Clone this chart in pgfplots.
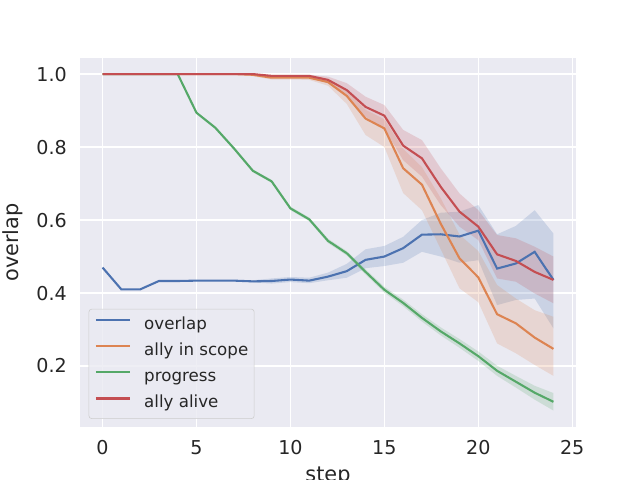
\documentclass[border=0pt]{standalone}
\usepackage{fontspec}
\setmainfont{DejaVu Sans}
\usepackage{pgfplots}
\pgfplotsset{compat=1.18}
\usepackage{pgfplotstable}
\usepgfplotslibrary{fillbetween}

\definecolor{sbblue}{HTML}{4C72B0}
\definecolor{sborange}{HTML}{DD8452}
\definecolor{sbgreen}{HTML}{55A868}
\definecolor{sbred}{HTML}{C44E52}
\definecolor{sbbg}{HTML}{EAEAF2}
\definecolor{sbtext}{HTML}{262626}

% x = step, m = mean, lo/hi = confidence band
\pgfplotstableread{
x m lo hi
0 0.470 0.470 0.470
1 0.410 0.410 0.410
2 0.410 0.410 0.410
3 0.433 0.433 0.433
4 0.433 0.433 0.433
5 0.434 0.433 0.435
6 0.434 0.433 0.435
7 0.434 0.433 0.435
8 0.432 0.429 0.435
9 0.433 0.426 0.440
10 0.437 0.430 0.444
11 0.434 0.427 0.442
12 0.445 0.435 0.456
13 0.460 0.442 0.480
14 0.491 0.468 0.520
15 0.500 0.474 0.529
16 0.523 0.483 0.554
17 0.560 0.513 0.600
18 0.561 0.500 0.620
19 0.555 0.483 0.623
20 0.571 0.490 0.641
21 0.467 0.367 0.561
22 0.481 0.381 0.584
23 0.513 0.385 0.627
24 0.436 0.303 0.563
}\tabov

\pgfplotstableread{
x m lo hi
0 1.000 1.000 1.000
1 1.000 1.000 1.000
2 1.000 1.000 1.000
3 1.000 1.000 1.000
4 1.000 1.000 1.000
5 1.000 1.000 1.000
6 1.000 1.000 1.000
7 1.000 1.000 1.000
8 0.998 0.994 1.000
9 0.990 0.985 0.995
10 0.990 0.985 0.995
11 0.990 0.984 0.996
12 0.978 0.968 0.987
13 0.940 0.918 0.955
14 0.878 0.833 0.902
15 0.851 0.800 0.876
16 0.742 0.674 0.795
17 0.697 0.627 0.745
18 0.590 0.520 0.660
19 0.495 0.413 0.560
20 0.443 0.375 0.515
21 0.342 0.262 0.422
22 0.317 0.235 0.385
23 0.278 0.203 0.353
24 0.247 0.173 0.335
}\tabsc

\pgfplotstableread{
x m lo hi
0 1.000 1.000 1.000
1 1.000 1.000 1.000
2 1.000 1.000 1.000
3 1.000 1.000 1.000
4 1.000 1.000 1.000
5 0.894 0.891 0.897
6 0.853 0.849 0.857
7 0.796 0.792 0.800
8 0.735 0.731 0.739
9 0.706 0.702 0.710
10 0.632 0.627 0.637
11 0.602 0.597 0.607
12 0.543 0.537 0.549
13 0.509 0.503 0.515
14 0.458 0.451 0.465
15 0.409 0.401 0.417
16 0.373 0.364 0.382
17 0.332 0.322 0.342
18 0.295 0.284 0.306
19 0.262 0.250 0.274
20 0.227 0.214 0.240
21 0.187 0.173 0.201
22 0.157 0.141 0.173
23 0.127 0.108 0.146
24 0.102 0.078 0.126
}\tabpr

\pgfplotstableread{
x m lo hi
0 1.000 1.000 1.000
1 1.000 1.000 1.000
2 1.000 1.000 1.000
3 1.000 1.000 1.000
4 1.000 1.000 1.000
5 1.000 1.000 1.000
6 1.000 1.000 1.000
7 1.000 1.000 1.000
8 1.000 1.000 1.000
9 0.995 0.992 0.998
10 0.995 0.992 0.998
11 0.995 0.991 0.998
12 0.984 0.975 0.993
13 0.956 0.938 0.975
14 0.910 0.883 0.938
15 0.886 0.851 0.915
16 0.804 0.764 0.847
17 0.769 0.719 0.819
18 0.691 0.641 0.742
19 0.623 0.582 0.673
20 0.582 0.545 0.627
21 0.506 0.440 0.559
22 0.488 0.431 0.550
23 0.458 0.399 0.527
24 0.436 0.372 0.500
}\tabal

\begin{document}
\begin{tikzpicture}
\begin{axis}[
    scale only axis,
    width=357.12pt, height=265.68pt,
    at={(0,0)}, anchor=south west,
    xmin=-1.2, xmax=25.2, ymin=0.033, ymax=1.044,
    axis background/.style={fill=sbbg},
    axis line style={draw=none},
    grid=major,
    major grid style={white, line width=1pt},
    major tick length=0pt,
    tick style={draw=none},
    xtick={0,5,10,15,20,25},
    ytick={0.2,0.4,0.6,0.8,1.0},
    yticklabel style={/pgf/number format/fixed, /pgf/number format/fixed zerofill, /pgf/number format/precision=1, xshift=-6pt},
    xticklabel style={yshift=-6pt},
    /pgf/number format/assume math mode=true,
    tick label style={font=\fontsize{13.75}{16}\selectfont, text=sbtext},
    label style={font=\fontsize{15}{18}\selectfont, text=sbtext},
    xlabel=step, ylabel=overlap,
    xlabel style={at={(axis description cs:0.5,-0.095)}, anchor=north},
    ylabel style={at={(axis description cs:-0.106,0.5)}, anchor=south},
    legend cell align=left,
    legend image code/.code={\draw[#1] (0pt,3.3pt) -- (24.5pt,3.3pt);},
    legend style={at={(axis description cs:0.0175,0.022)}, anchor=south west,
        draw=black!20, fill=sbbg, fill opacity=0.8, text opacity=1, text=sbtext,
        rounded corners=2pt, font=\fontsize{12}{14}\selectfont,
        inner xsep=4.3pt, inner ysep=5.3pt, row sep=7pt,
        nodes={inner sep=0pt, text height=9.2pt, text depth=2.6pt},
        /tikz/every odd column/.append style={column sep=9.5pt}},
]
% confidence bands
\addplot[name path=oh, draw=none, forget plot] table[x=x, y=hi] {\tabov};
\addplot[name path=ol, draw=none, forget plot] table[x=x, y=lo] {\tabov};
\addplot[fill=sbblue, fill opacity=0.2, forget plot] fill between[of=oh and ol];
\addplot[name path=sh, draw=none, forget plot] table[x=x, y=hi] {\tabsc};
\addplot[name path=sl, draw=none, forget plot] table[x=x, y=lo] {\tabsc};
\addplot[fill=sborange, fill opacity=0.2, forget plot] fill between[of=sh and sl];
\addplot[name path=ph, draw=none, forget plot] table[x=x, y=hi] {\tabpr};
\addplot[name path=pl, draw=none, forget plot] table[x=x, y=lo] {\tabpr};
\addplot[fill=sbgreen, fill opacity=0.2, forget plot] fill between[of=ph and pl];
\addplot[name path=ah, draw=none, forget plot] table[x=x, y=hi] {\tabal};
\addplot[name path=al, draw=none, forget plot] table[x=x, y=lo] {\tabal};
\addplot[fill=sbred, fill opacity=0.2, forget plot] fill between[of=ah and al];
% mean lines
\addplot[sbblue, line width=1.5pt, no markers] table[x=x, y=m] {\tabov};
\addlegendentry{overlap}
\addplot[sborange, line width=1.5pt, no markers] table[x=x, y=m] {\tabsc};
\addlegendentry{ally in scope}
\addplot[sbgreen, line width=1.5pt, no markers] table[x=x, y=m] {\tabpr};
\addlegendentry{progress}
\addplot[sbred, line width=1.5pt, no markers] table[x=x, y=m] {\tabal};
\addlegendentry{ally alive}
\end{axis}
\pgfresetboundingbox
\path[use as bounding box] (-57.6pt,-38.16pt) rectangle (403.2pt,307.44pt);
\end{tikzpicture}
\end{document}
